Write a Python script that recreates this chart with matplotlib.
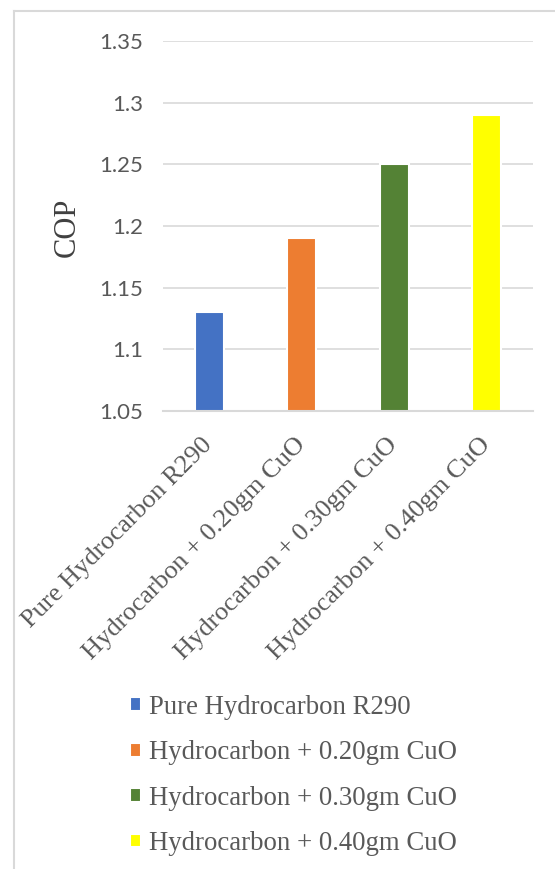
import matplotlib.pyplot as plt
from matplotlib.lines import Line2D

# data
categories = ['Pure Hydrocarbon R290', 'Hydrocarbon + 0.20gm CuO',
              'Hydrocarbon + 0.30gm CuO', 'Hydrocarbon + 0.40gm CuO']
cop = [1.13, 1.19, 1.25, 1.29]
colors = ['#4472C4', '#ED7D31', '#548235', '#FFFF00']
yticks = [1.05, 1.1, 1.15, 1.2, 1.25, 1.3, 1.35]
ytick_labels = ['1.05', '1.1', '1.15', '1.2', '1.25', '1.3', '1.35']

W, H = 555, 869
fig = plt.figure(figsize=(W / 100, H / 100), dpi=100)
ax = fig.add_axes([163 / W, 1 - 411 / H, (533 - 163) / W, (411 - 41) / H])

x = list(range(len(categories)))
bars = ax.bar(x, cop, width=0.31, color=colors, edgecolor='white',
              linewidth=1.5, zorder=3)

ax.set_ylim(1.05, 1.35)
ax.set_xlim(-0.5, 3.5)
ax.set_yticks(yticks)
ax.set_yticklabels(ytick_labels, fontfamily='Lato', fontsize=16, color='#595959')
ax.tick_params(axis='y', length=0, pad=14)
ax.tick_params(axis='x', length=0, pad=22)
ax.set_xticks(x)
ax.set_xticklabels(categories, rotation=45, ha='right', va='center',
                   rotation_mode='anchor', fontfamily='Liberation Serif',
                   fontsize=19, color='#595959')
ax.grid(axis='y', color='#D9D9D9', linewidth=1.2, zorder=0)
for s in ['top', 'right', 'left']:
    ax.spines[s].set_visible(False)
ax.spines['bottom'].set_color('#D9D9D9')
ax.spines['bottom'].set_linewidth(1.5)
ax.spines['bottom'].set_zorder(4)

fig.text(67 / W, 1 - 227 / H, 'COP', rotation=90, ha='center', va='center',
         fontfamily='Liberation Serif', fontsize=22, color='#404040')

leg = fig.legend(bars, categories, loc='upper left',
                 bbox_to_anchor=(130 / W, 1 - 695 / H), frameon=False,
                 prop={'family': 'Liberation Serif', 'size': 19.3},
                 handlelength=0.42, handleheight=0.42, handletextpad=0.3,
                 labelspacing=0.76, borderaxespad=0, borderpad=0)
for t in leg.get_texts():
    t.set_color('#595959')

# outer chart frame (only top and left edges visible)
fx, fy = 14 / W, 1 - 11 / H
fig.add_artist(Line2D([fx, fx], [0, fy], color='#D9D9D9', linewidth=1.5))
fig.add_artist(Line2D([fx, 1], [fy, fy], color='#D9D9D9', linewidth=1.5))

fig.savefig('out.png', dpi=100)
